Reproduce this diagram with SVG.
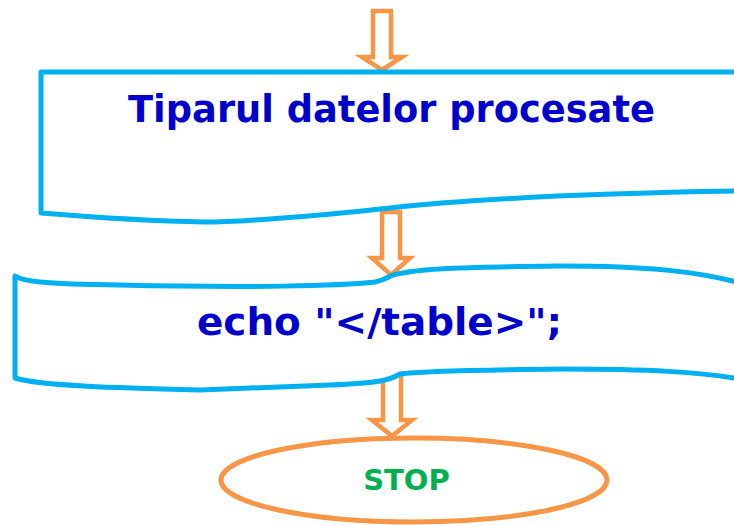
<svg xmlns="http://www.w3.org/2000/svg" width="734" height="525" viewBox="0 0 734 525">
  <style>
    .doc { fill: #ffffff; stroke: #00B0F0; stroke-width: 5; stroke-linejoin: round; }
    .arrow { fill: #ffffff; stroke: #F79646; stroke-width: 4.5; stroke-linejoin: miter; }
    .term { fill: #ffffff; stroke: #F79646; stroke-width: 5; }
    .label { font-family: "DejaVu Sans", Verdana, sans-serif; font-weight: bold; fill: #0000CC; text-anchor: middle; }
    .stop { font-family: "DejaVu Sans", Verdana, sans-serif; font-weight: bold; fill: #00B050; text-anchor: middle; }
  </style>

  <!-- block arrows between steps -->
  <g id="connectors">
    <path class="arrow" d="M373,11 H391 V57 H402 L382,70 L362,57 H373 Z"/>
    <path class="arrow" d="M382,212 H400 V258 H410 L391,275 L372,258 H382 Z"/>
    <path class="arrow" d="M383,372 H401 V420 H412 L392,436 L372,420 H383 Z"/>
  </g>

  <!-- output document -->
  <g id="print-output">
    <path class="doc" d="M41,72 H740 V191 C620,193 480,198 390,208 C300,218 230,222 205,222 C150,221 90,217 41,213 Z"/>
    <text class="label" x="391.5" y="122" font-size="37" textLength="527" lengthAdjust="spacingAndGlyphs">Tiparul datelor procesate</text>
  </g>

  <!-- echo statement -->
  <g id="echo-table">
    <path class="doc" d="M15,276 C22,281 40,284 120,285 C250,288 340,286 375,282 C385,280 388,277 393,275 C420,268 470,267 560,266 C650,266 700,272 740,283 V379 C700,372 650,369 560,369 C470,370 420,371 400,374 C390,380 380,383 330,385 C260,388 220,389 200,390 C120,388 40,386 15,378 Z"/>
    <text class="label" x="379.5" y="335" font-size="37" textLength="365" lengthAdjust="spacingAndGlyphs">echo "&lt;/table&gt;";</text>
  </g>

  <!-- terminal -->
  <g id="stop">
    <ellipse class="term" cx="414" cy="480" rx="193" ry="42"/>
    <text class="stop" x="406.5" y="490" font-size="29">STOP</text>
  </g>
</svg>
